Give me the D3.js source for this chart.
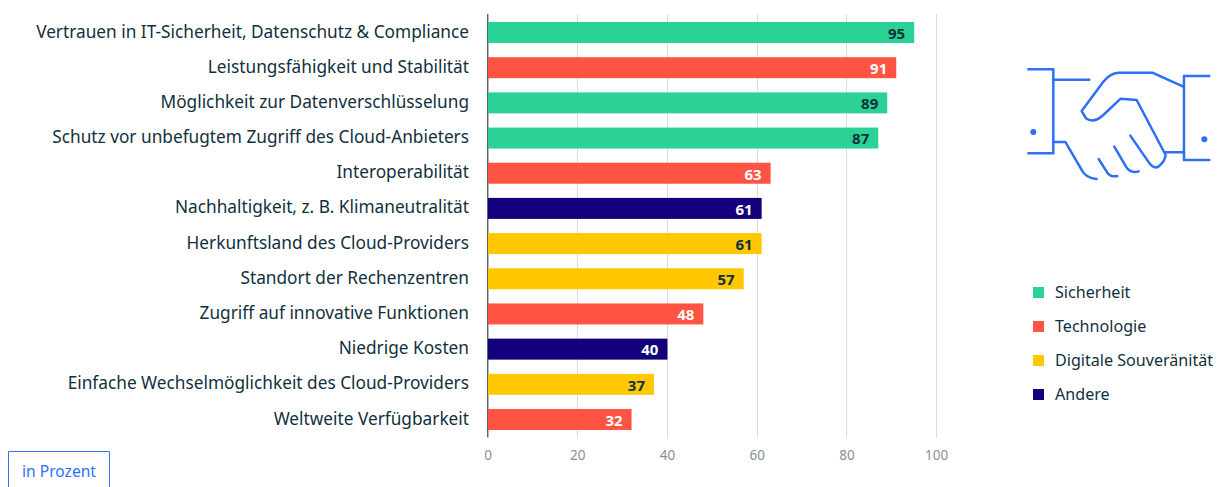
<!DOCTYPE html>
<html><head><meta charset="utf-8">
<script src="https://cdn.jsdelivr.net/npm/d3@7"></script>
<style>
html,body{margin:0;padding:0;background:#fff;overflow:hidden}
svg{display:block}
text{font-family:"Noto Sans","Open Sans",sans-serif}
</style></head><body>
<svg id="chart" width="1221" height="487"></svg>
<script>
const categories = ["Vertrauen in IT-Sicherheit, Datenschutz & Compliance","Leistungsfähigkeit und Stabilität","Möglichkeit zur Datenverschlüsselung","Schutz vor unbefugtem Zugriff des Cloud-Anbieters","Interoperabilität","Nachhaltigkeit, z. B. Klimaneutralität","Herkunftsland des Cloud-Providers","Standort der Rechenzentren","Zugriff auf innovative Funktionen","Niedrige Kosten","Einfache Wechselmöglichkeit des Cloud-Providers","Weltweite Verfügbarkeit"];
const values = [95,91,89,87,63,61,61,57,48,40,37,32];
const groups = ["Sicherheit","Technologie","Sicherheit","Sicherheit","Technologie","Andere","Digitale Souveränität","Digitale Souveränität","Technologie","Andere","Digitale Souveränität","Technologie"];
const legendItems = ["Sicherheit","Technologie","Digitale Souveränität","Andere"];
const legendColors = ["#2ad296","#ff5343","#ffc800","#13007c"];
const labelColors = ["#11303d","#ffffff","#11303d","#ffffff"];
const xTicks = [0,20,40,60,80,100];

const svg = d3.select("#chart");
const color = d3.scaleOrdinal(legendItems, legendColors);
const labelColor = d3.scaleOrdinal(legendItems, labelColors);
const x = d3.scaleLinear([0,100],[488,936.6]);
const y = d3.scaleBand(categories,[14.4,437.6]).paddingInner(0.403).paddingOuter(0.2165);

// grid
svg.append("g").selectAll("line").data(xTicks.slice(1)).join("line")
  .attr("x1",d=>Math.floor(x(d))+.5).attr("x2",d=>Math.floor(x(d))+.5).attr("y1",14).attr("y2",437.5)
  .attr("stroke","#dcdcdc").attr("stroke-width",1);
svg.append("line").attr("x1",488.5).attr("x2",488.5).attr("y1",14).attr("y2",437.5).attr("stroke","#b4bcbe");

// axis labels
svg.append("g").attr("transform","translate(-0.4,437)")
  .call(d3.axisBottom(x).tickValues(xTicks).tickSize(0).tickPadding(13))
  .call(g=>g.select(".domain").remove())
  .call(g=>g.selectAll("text").attr("fill","#8a8f93").style("font-size","13.5px").style("font-family",'"Noto Sans",sans-serif'));

// category labels
svg.append("g").selectAll("text").data(categories).join("text")
  .attr("x",469).attr("y",d=>y(d)+y.bandwidth()/2-1).attr("dy","0.35em")
  .attr("text-anchor","end").attr("fill","#11303d").style("font-size","17.25px").text(d=>d);

// bars
svg.append("g").selectAll("rect").data(values).join("rect")
  .attr("x",x(0)).attr("y",(d,i)=>y(categories[i]))
  .attr("width",d=>x(d)-x(0)).attr("height",y.bandwidth())
  .attr("fill",(d,i)=>color(groups[i]));

// value labels
svg.append("g").selectAll("text").data(values).join("text")
  .attr("x",d=>x(d)-9).attr("y",(d,i)=>y(categories[i])+y.bandwidth()/2+0.8).attr("dy","0.37em")
  .attr("text-anchor","end").attr("fill",(d,i)=>labelColor(groups[i]))
  .style("font-size","15px").style("font-weight","700").text(d=>d);

// axis line
svg.append("line").attr("x1",487.5).attr("x2",487.5).attr("y1",14).attr("y2",437.5)
  .attr("stroke","#5a6b70").attr("stroke-width",1);

// legend
const leg = svg.append("g").selectAll("g").data(legendItems).join("g")
  .attr("transform",(d,i)=>`translate(1033,${292+i*34})`);
leg.append("rect").attr("x",0).attr("y",-5).attr("width",11).attr("height",11).attr("fill",d=>color(d));
leg.append("text").attr("x",22).attr("dy","0.35em").attr("fill","#11303d").style("font-size","16.1px").text(d=>d);

// unit box
svg.append("path").attr("d","M8.5 487V451.5H109.5V487").attr("fill","none").attr("stroke","#2f72f5").attr("stroke-width",1);
svg.append("text").attr("x",59).attr("y",477).attr("text-anchor","middle").attr("fill","#2f72f5").style("font-size","15.6px").text("in Prozent");

// handshake icon
const icon = svg.append("g").attr("transform","translate(1000,50) scale(0.3333)")
  .attr("fill","none").attr("stroke","#2d6ff7").attr("stroke-width",7.5).attr("stroke-linecap","round").attr("stroke-linejoin","round");
["M85 58H160V310H85","M160 89H268","M160 276H196L245 360Q258 385 290 387","M296 327L322 368Q332 382 352 378","M343 290L378 350Q392 372 416 364",
 "M391 257L445 335Q460 358 475 350Q495 335 497 315L410 150L362 146L310 195Q280 222 258 205L245 183L310 95Q330 70 355 68H457L550 110",
 "M628 78H552V330H628","M497 307H552"].forEach(d=>icon.append("path").attr("d",d));
icon.append("circle").attr("cx",100).attr("cy",246).attr("r",9).attr("fill","#2d6ff7").attr("stroke","none");
icon.append("circle").attr("cx",613).attr("cy",268).attr("r",9).attr("fill","#2d6ff7").attr("stroke","none");
</script>
</body></html>
